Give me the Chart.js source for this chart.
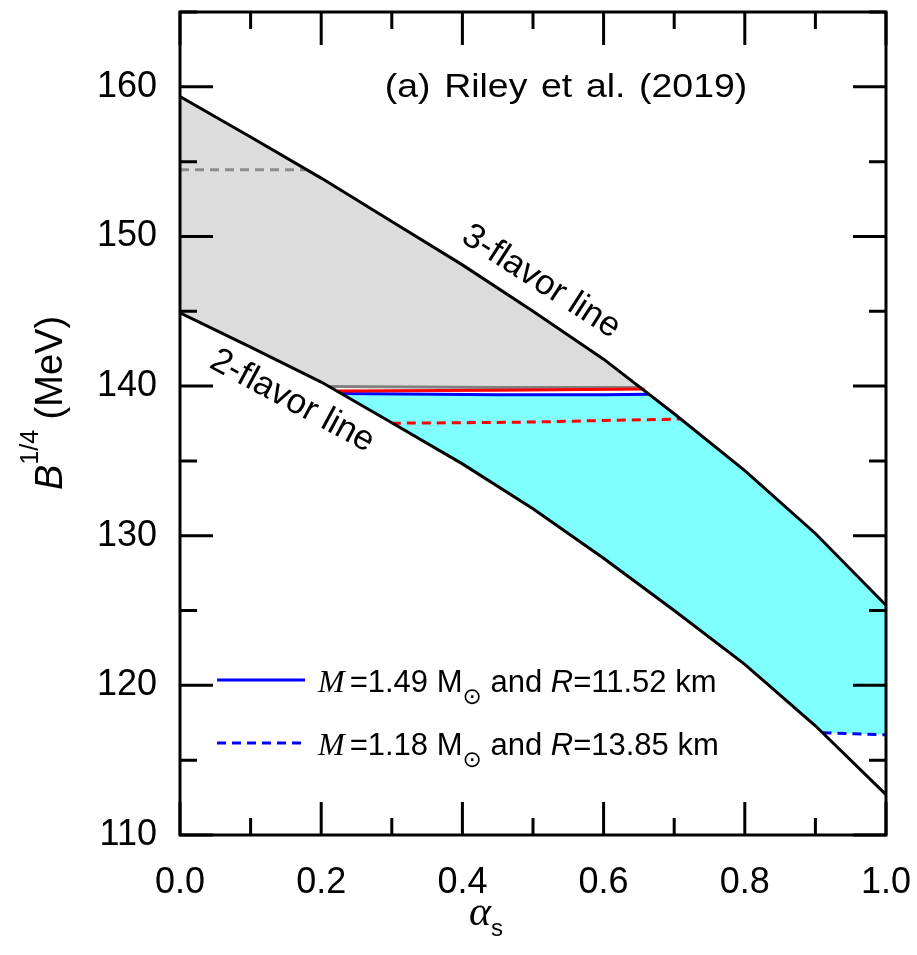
<!DOCTYPE html>
<html>
<head>
<meta charset="utf-8">
<script src="https://cdn.jsdelivr.net/npm/chart.js@4.4.1/dist/chart.umd.min.js"></script>
<style>
  html, body { margin: 0; padding: 0; background: #fff; }
  #wrap { width: 917px; height: 955px; position: relative; }
</style>
</head>
<body>
<div id="wrap"><canvas id="myChart"></canvas></div>
<script>
// curves (alpha_s, B^1/4 in MeV)
const flavor3Alpha = [0, 0.1, 0.2, 0.3, 0.4, 0.5, 0.6, 0.7, 0.8, 0.9, 1.0];
const flavor3B = [159.35, 156.65, 153.9, 151.0, 148.1, 145.0, 141.8, 138.15, 134.35, 130.15, 125.35];
const flavor2Alpha = [0, 0.1, 0.2, 0.3, 0.4, 0.5, 0.6, 0.7, 0.8, 0.9, 1.0];
const flavor2B = [144.9, 142.6, 140.27, 137.55, 134.8, 131.8, 128.5, 125.0, 121.4, 117.3, 112.7];

const greyLineAlpha = [0.21, 0.45, 0.654];
const greyLineB = [139.97, 139.9, 139.9];
const redLineAlpha = [0.222, 0.45, 0.658];
const redLineB = [139.67, 139.72, 139.8];
const blueLineAlpha = [0.228, 0.45, 0.6, 0.664];
const blueLineB = [139.5, 139.42, 139.42, 139.46];
const redDashAlpha = [0.3, 0.4, 0.5, 0.6, 0.709];
const redDashB = [137.52, 137.55, 137.6, 137.7, 137.8];
const blueDashAlpha = [0.91, 1.0];
const blueDashB = [116.84, 116.7];
const greyDashAlpha = [0, 0.18];
const greyDashB = [154.45, 154.45];

const xTickLabels = ['0.0', '0.2', '0.4', '0.6', '0.8', '1.0'];
const yTickLabels = ['110', '120', '130', '140', '150', '160'];

const SANS = '"Liberation Sans", Arial, sans-serif';

function pts(xs, ys) {
    return xs.map((x, i) => ({ x: x, y: ys[i] }));
}

function interp(xs, ys, a) {
    for (let i = 1; i < xs.length; i++) {
        if (a <= xs[i]) {
            const t = (a - xs[i - 1]) / (xs[i] - xs[i - 1]);
            return ys[i - 1] + t * (ys[i] - ys[i - 1]);
        }
    }
    return ys[ys.length - 1];
}

const upper = pts(flavor3Alpha, flavor3B);
const lower = pts(flavor2Alpha, flavor2B);
const greyEnd = greyLineAlpha[greyLineAlpha.length - 1];
const greyPoly = [
    ...upper.filter(p => p.x < greyEnd),
    ...pts(greyLineAlpha, greyLineB).reverse(),
    ...lower.filter(p => p.x < greyLineAlpha[0]).reverse()
];
const blueEnd = blueLineAlpha[blueLineAlpha.length - 1];
const cyanPoly = [
    ...pts(blueLineAlpha, blueLineB),
    ...upper.filter(p => p.x > blueEnd),
    ...pts(blueDashAlpha, blueDashB).reverse(),
    ...lower.filter(p => p.x > blueLineAlpha[0] && p.x < blueDashAlpha[0]).reverse()
];

function lineSet(data, color, dash, order) {
    return {
        data: data,
        borderColor: color,
        borderWidth: 3,
        borderDash: dash || [],
        pointRadius: 0,
        tension: 0,
        fill: false,
        order: order
    };
}

function areaSet(data, color) {
    return {
        data: data,
        borderColor: 'transparent',
        borderWidth: 0,
        backgroundColor: color,
        pointRadius: 0,
        tension: 0,
        fill: 'shape',
        order: 10
    };
}

function noPad(s) {
    s.paddingTop = 0;
    s.paddingBottom = 0;
    s.paddingLeft = 0;
    s.paddingRight = 0;
}

const frameAndText = {
    id: 'frameAndText',
    afterDatasetsDraw(chart) {
        const { ctx, chartArea: a, scales: { x, y } } = chart;
        ctx.save();
        ctx.strokeStyle = '#000';
        ctx.lineWidth = 3;
        ctx.beginPath();
        x.ticks.forEach(t => {
            const px = x.getPixelForValue(t.value);
            const len = Math.round(t.value * 10) % 2 === 0 ? 33 : 17;
            ctx.moveTo(px, a.bottom); ctx.lineTo(px, a.bottom - len);
            ctx.moveTo(px, a.top); ctx.lineTo(px, a.top + len);
        });
        y.ticks.forEach(t => {
            const py = y.getPixelForValue(t.value);
            const len = Math.round(t.value) % 10 === 0 ? 33 : 17;
            ctx.moveTo(a.left, py); ctx.lineTo(a.left + len, py);
            ctx.moveTo(a.right, py); ctx.lineTo(a.right - len, py);
        });
        ctx.stroke();
        ctx.lineJoin = 'miter';
        ctx.strokeRect(a.left, a.top, a.right - a.left, a.bottom - a.top);
        ctx.restore();
    },
    afterDraw(chart) {
        const { ctx, chartArea: a, scales: { x, y } } = chart;
        ctx.save();
        ctx.fillStyle = '#000';

        // labels along the two boundary lines
        function along(text, xs, ys, at, offset, angleDeg) {
            const px = x.getPixelForValue(at);
            const py = y.getPixelForValue(interp(xs, ys, at));
            const th = angleDeg * Math.PI / 180;
            const cx = px + offset * Math.sin(th);
            const cy = py - offset * Math.cos(th);
            ctx.save();
            ctx.translate(cx, cy);
            ctx.rotate(th);
            ctx.font = '35px ' + SANS;
            ctx.textAlign = 'center';
            ctx.textBaseline = 'middle';
            ctx.fillText(text, 0, 0);
            ctx.restore();
        }
        along('3-flavor line', flavor3Alpha, flavor3B, 0.489, 29, 32.8);
        along('2-flavor line', flavor2Alpha, flavor2B, 0.179, -30, 28.3);

        // panel title
        ctx.save();
        ctx.translate(566, 97);
        ctx.scale(1.1, 1);
        ctx.font = '34px ' + SANS;
        ctx.wordSpacing = '3px';
        ctx.textAlign = 'center';
        ctx.textBaseline = 'alphabetic';
        ctx.fillText('(a) Riley et al. (2019)', 0, 0);
        ctx.restore();

        // legend
        function legendRow(yy, dash, mass, radius) {
            ctx.save();
            ctx.strokeStyle = '#0000ff';
            ctx.lineWidth = 3;
            ctx.setLineDash(dash);
            ctx.beginPath();
            ctx.moveTo(a.left + 37, yy);
            ctx.lineTo(a.left + 125, yy);
            ctx.stroke();
            ctx.restore();
            let cx = a.left + 138;
            const base = yy + 12;
            ctx.textAlign = 'left';
            ctx.textBaseline = 'alphabetic';
            ctx.font = 'italic 32px "Liberation Serif", serif';
            ctx.fillText('M', cx, base);
            cx += ctx.measureText('M').width + 5;
            ctx.font = '31px ' + SANS;
            const t1 = '=' + mass + ' M';
            ctx.fillText(t1, cx, base);
            cx += ctx.measureText(t1).width;
            ctx.font = '23px "DejaVu Sans", sans-serif';
            ctx.fillText('\u2299', cx, base + 12);
            cx += ctx.measureText('\u2299').width;
            ctx.font = '31px ' + SANS;
            ctx.fillText(' and ', cx, base);
            cx += ctx.measureText(' and ').width;
            ctx.font = 'italic 31px ' + SANS;
            ctx.fillText('R', cx, base);
            cx += ctx.measureText('R').width;
            ctx.font = '31px ' + SANS;
            ctx.fillText('=' + radius + ' km', cx, base);
        }
        legendRow(680, [], '1.49', '11.52');
        legendRow(743, [9, 6], '1.18', '13.85');

        // y axis title, rotated
        ctx.save();
        ctx.translate(62, 403);
        ctx.rotate(-Math.PI / 2);
        ctx.textBaseline = 'alphabetic';
        ctx.textAlign = 'left';
        const bFont = 'italic 38px ' + SANS;
        const supFont = '25px ' + SANS;
        const unitFont = '38px ' + SANS;
        ctx.font = bFont; const wB = ctx.measureText('B').width;
        ctx.font = supFont; const wS = ctx.measureText('1/4').width;
        ctx.font = unitFont; const wU = ctx.measureText(' (MeV)').width;
        let sx = -(wB + wS + wU) / 2;
        ctx.font = bFont; ctx.fillText('B', sx, 0); sx += wB;
        ctx.font = supFont; ctx.fillText('1/4', sx, -24); sx += wS;
        ctx.font = unitFont; ctx.fillText(' (MeV)', sx, 0);
        ctx.restore();

        // x axis title
        ctx.textAlign = 'left';
        ctx.textBaseline = 'alphabetic';
        ctx.font = 'italic 42px "Liberation Serif", serif';
        ctx.fillText('\u03b1', 469, 925);
        const wa = ctx.measureText('\u03b1').width;
        ctx.font = '24px ' + SANS;
        ctx.fillText('s', 469 + wa, 936);
        ctx.restore();
    }
};

const ctx = document.getElementById('myChart').getContext('2d');
const myChart = new Chart(ctx, {
    type: 'line',
    data: {
        datasets: [
            lineSet(pts(flavor3Alpha, flavor3B), '#000000', null, 1),
            lineSet(pts(flavor2Alpha, flavor2B), '#000000', null, 1),
            lineSet(pts(redLineAlpha, redLineB), '#ff0000', null, 2),
            lineSet(pts(blueLineAlpha, blueLineB), '#0000ff', null, 2),
            lineSet(pts(redDashAlpha, redDashB), '#ff0000', [9, 6], 2),
            lineSet(pts(blueDashAlpha, blueDashB), '#0000ff', [9, 6], 2),
            lineSet(pts(greyDashAlpha, greyDashB), '#8c8c8c', [9, 6], 2),
            lineSet(pts(greyLineAlpha, greyLineB), '#808080', null, 3),
            areaSet(greyPoly, '#dcdcdc'),
            areaSet(cyanPoly, '#80ffff')
        ]
    },
    options: {
        responsive: true,
        maintainAspectRatio: false,
        animation: false,
        layout: { padding: { left: 0, right: 31, top: 12, bottom: 0 } },
        plugins: {
            legend: { display: false },
            tooltip: { enabled: false }
        },
        scales: {
            x: {
                type: 'linear',
                min: 0,
                max: 1,
                grid: { display: false, drawTicks: false },
                border: { display: false },
                afterFit: s => { s.height = 120; noPad(s); },
                ticks: {
                    stepSize: 0.1,
                    autoSkip: false,
                    maxRotation: 0,
                    padding: 26,
                    color: '#000',
                    font: { family: SANS, size: 36 },
                    callback: v => {
                        const s = v.toFixed(1);
                        return xTickLabels.includes(s) ? s : '';
                    }
                }
            },
            y: {
                min: 110,
                max: 165,
                grid: { display: false, drawTicks: false },
                border: { display: false },
                afterFit: s => { s.width = 180; noPad(s); },
                ticks: {
                    stepSize: 5,
                    autoSkip: false,
                    padding: 23,
                    color: '#000',
                    font: { family: SANS, size: 36 },
                    callback: v => {
                        const s = String(Math.round(v));
                        return yTickLabels.includes(s) ? s : '';
                    }
                }
            }
        }
    },
    plugins: [frameAndText]
});
</script>
</body>
</html>
